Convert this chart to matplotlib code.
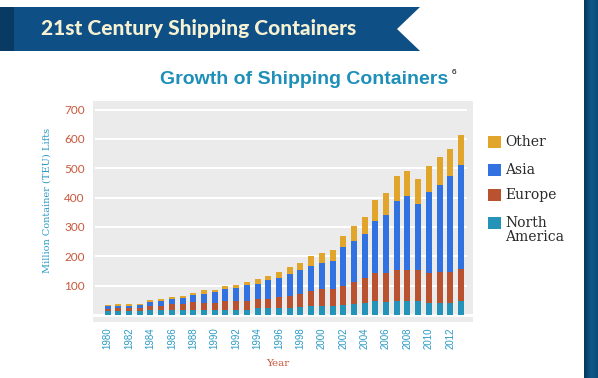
import matplotlib.pyplot as plt
import numpy as np
from matplotlib.patches import Rectangle, Polygon

years = list(range(1980, 2014))
north_america = [12, 14, 14, 14, 16, 16, 16, 16, 16, 18, 18, 18, 18, 18, 22, 24, 24,
                 25, 27, 31, 31, 31, 34, 38, 40, 48, 45, 46, 46, 46, 42, 42, 41, 48]
europe = [9, 9, 10, 11, 16, 15, 20, 23, 27, 24, 23, 30, 30, 30, 31, 31, 37,
          41, 45, 49, 57, 57, 66, 75, 87, 96, 99, 108, 108, 108, 102, 106, 107, 109]
asia = [8, 9, 8, 10, 13, 18, 20, 18, 25, 31, 36, 39, 43, 53, 54, 65, 65,
        74, 80, 88, 88, 97, 131, 139, 149, 177, 196, 235, 250, 225, 276, 296, 324, 355]
other = [6, 7, 7, 4, 7, 7, 5, 7, 7, 11, 8, 11, 10, 10, 16, 13, 21,
         22, 26, 34, 34, 37, 39, 52, 57, 71, 77, 85, 88, 85, 86, 93, 94, 100]
y_ticks = [100, 200, 300, 400, 500, 600, 700]
x_labels = list(range(1980, 2013, 2))

series = ['North\nAmerica', 'Europe', 'Asia', 'Other']
colors = ['#2393b8', '#b8522f', '#3171e0', '#e0a52a']

W, H = 598, 378
fig = plt.figure(figsize=(W / 100, H / 100), dpi=100)
fig.patch.set_facecolor('white')


def fx(x):
    return x / W


def fy(y):
    return 1 - y / H


# banner at the top
banner = Polygon([(fx(0), fy(7)), (fx(420), fy(7)), (fx(397), fy(29)),
                  (fx(420), fy(51)), (fx(0), fy(51))],
                 closed=True, transform=fig.transFigure, color='#0e4f85', lw=0)
fig.add_artist(banner)
fig.add_artist(Rectangle((fx(0), fy(51)), fx(14), 44 / H, transform=fig.transFigure,
                         color='#083a63', lw=0))
fig.text(fx(199), fy(29), '21st Century Shipping Containers', color='#f6f1d3',
         fontsize=15, fontweight='black', family='Lato', ha='center', va='center')

# dark strip on the right edge
sax = fig.add_axes([fx(584), 0, 14 / W, 1])
grad = np.linspace(0, 1, 50)
sax.imshow(grad[None, :], aspect='auto', cmap=plt.matplotlib.colors.LinearSegmentedColormap.from_list(
    's', ['#0a3456', '#0f5a8a', '#0c4b78']))
sax.axis('off')

fig.text(fx(304), fy(79), 'Growth of Shipping Containers', color='#1e8fb8',
         fontsize=14, fontweight='bold', family='Liberation Sans', ha='center', va='center')
fig.text(fx(452), fy(72), '6', color='black', fontsize=6, family='Liberation Sans',
         ha='left', va='center')

ax = fig.add_axes([fx(93), fy(322), 380 / W, 221.3 / H])
ax.set_facecolor('#ebebeb')
ax.set_xlim(1978.63, 2014.12)
ax.set_ylim(-24, 730)

for yv in y_ticks:
    ax.hlines(yv, 1978.8, 2013.6, color='white', lw=1.5, zorder=1)
ax.axhline(0, color='white', lw=2, zorder=1)

bottom = np.zeros(len(years))
for vals, c in zip([north_america, europe, asia, other], colors):
    ax.bar(years, vals, bottom=bottom, width=0.56, color=c, zorder=2, lw=0)
    bottom += np.array(vals)

for s in ax.spines.values():
    s.set_visible(False)
ax.set_yticks(y_ticks)
ax.set_yticklabels([str(v) for v in y_ticks], color='#c9573a', fontsize=8.5, family='Lato')
ax.set_xticks(x_labels)
ax.set_xticklabels([str(v) for v in x_labels], rotation=90, color='#2b9ac4',
                   fontsize=7, family='Liberation Sans')
ax.tick_params(axis='both', length=0)
ax.tick_params(axis='y', pad=6)
ax.tick_params(axis='x', pad=4)

fig.text(fx(47), fy(200), 'Million Container (TEU) Lifts', color='#2b9ac4', rotation=90,
         fontsize=7, family='DejaVu Serif', ha='center', va='center')
fig.text(fx(278), fy(363), 'Year', color='#c9573a', fontsize=7.5,
         family='DejaVu Serif', ha='center', va='center')

# legend drawn by hand
leg = [('Other', colors[3], 136), ('Asia', colors[2], 164),
       ('Europe', colors[1], 189), ('North\nAmerica', colors[0], 217)]
for name, c, top in leg:
    fig.add_artist(Rectangle((fx(488), fy(top + 12)), 13 / W, 12 / H,
                             transform=fig.transFigure, color=c, lw=0))
    fig.text(fx(505), fy(top - 1), name, color='#2a2a2a', fontsize=10,
             family='DejaVu Serif', ha='left', va='top', linespacing=1.0)

fig.savefig('out.png', dpi=100)
